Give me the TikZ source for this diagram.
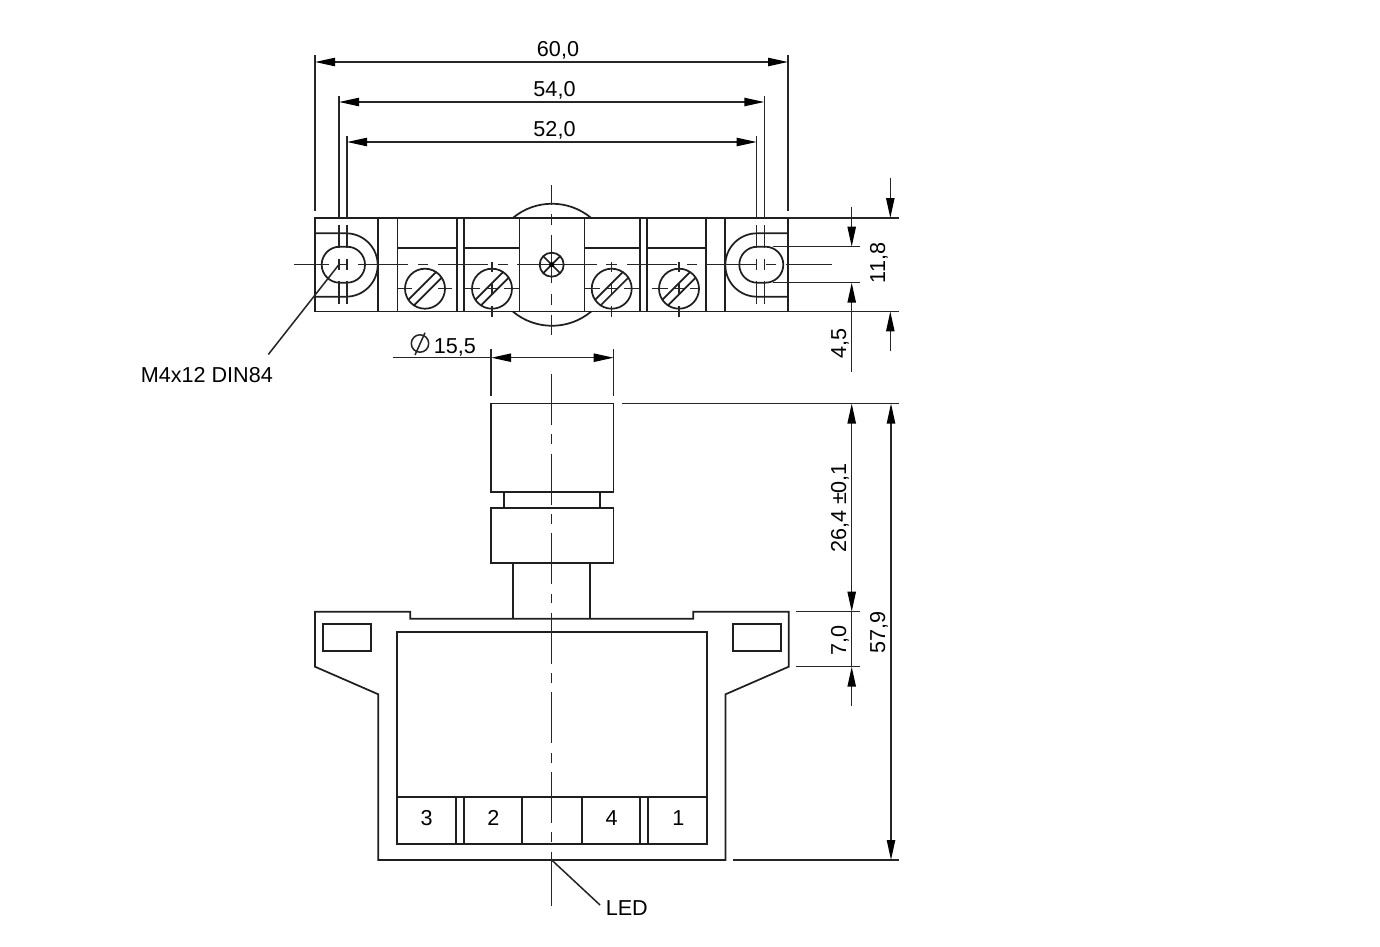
\documentclass[tikz,border=0pt]{standalone}
\usepackage{fontspec}
\setmainfont{Liberation Sans}
\usetikzlibrary{arrows.meta}
\tikzset{
  body/.style={line width=1.3pt,black!88,line join=miter},
  thin line/.style={line width=1.15pt,black!85},
  centre/.style={line width=1.15pt,black!85},
  dimline/.style={line width=1.15pt,black!85,arrows={-}},
  both tips/.style={{Triangle[length=15pt,width=6.2pt,black]}-{Triangle[length=15pt,width=6.2pt,black]}},
  end tip/.style={-{Triangle[length=15pt,width=6.2pt,black]}},
  longcentre/.style={line width=1.15pt,black!85,dash pattern=on 38.25pt off 7.1pt on 7.3pt off 7.05pt},
  dimtext/.style={font=\fontsize{16.2}{18}\selectfont,inner sep=0pt,anchor=base,black},
  vdimtext/.style={dimtext,rotate=90}
}
\newcommand{\screwhead}[2]{%
  \draw[body] (#1,#2) circle[radius=20];
  \draw[body] (#1-16.7,#2+11.1) -- (#1+11.1,#2-16.7);
  \draw[body] (#1-11.1,#2+16.7) -- (#1+16.7,#2-11.1);
}
\begin{document}
\begin{tikzpicture}[x=0.75pt,y=-0.75pt]
\useasboundingbox (0,0) rectangle (1380,946);

% ---------- top view ----------
\draw[body] (512.8,218) arc[start angle=-130,end angle=-50,radius=61];
\draw[body] (512.8,311.5) arc[start angle=130,end angle=50,radius=61];
\draw[body] (315,218) rectangle (788,311.5);
\foreach \x in {378,397.5,457,464,519.5,584.5,640,647,706,725}
  \draw[body] (\x,218) -- (\x,311.5);
\foreach \a/\b in {397.5/457,464/519.5,584.5/640,647/706}
  \draw[body] (\a,248) -- (\b,248);

% clamps
\draw[body] (315,233.3) -- (346,233.3) arc[start angle=-90,end angle=90,radius=31.7] -- (315,296.7);
\draw[body] (788,233.3) -- (757,233.3) arc[start angle=-90,end angle=-270,radius=31.7] -- (788,296.7);
\draw[body] (339.7,246.7) -- (347,246.7) arc[start angle=-90,end angle=90,radius=18] -- (339.7,282.7) arc[start angle=90,end angle=270,radius=18] -- cycle;
\draw[body] (757.3,246.7) -- (765.3,246.7) arc[start angle=-90,end angle=90,radius=18] -- (757.3,282.7) arc[start angle=90,end angle=270,radius=18] -- cycle;
\foreach \x in {339,347,756.7,764.3}
  \foreach \a/\b in {225/248,259/270,280.7/304}
    \draw[centre] (\x,\a) -- (\x,\b);

% main horizontal centre line
\foreach \a/\b in {294/329,338/348,358/408,418/428,438/488,498/508,517/597,606/617,627/677,687/697,706/756,766/776,786/832}
  \draw[centre] (\a,264.7) -- (\b,264.7);
% central vertical centre line
\foreach \a/\b in {185/205,214/225,235/283,294/305,315/335}
  \draw[centre] (551.7,\a) -- (551.7,\b);

% central screw
\draw[body] (551.7,264.7) circle[radius=12];
\draw[body] (543.2,256.2) -- (560.2,273.2);
\draw[body] (543.2,273.2) -- (560.2,256.2);
\fill[black] (551.7,264.7) circle[radius=2.6];

% terminal screws
\screwhead{425}{288.7}
\screwhead{492}{288.7}
\screwhead{611.7}{288.7}
\screwhead{679}{288.7}
\foreach \a/\b in {397.5/412,438/452,464/480,487/497,504/520,584.5/600,607/617,624/640,652/668,674/684,690/699}
  \draw[centre] (\a,288.7) -- (\b,288.7);
\foreach \x in {492,611.7,679}
  \foreach \a/\b in {262/272,284/294,306/317}
    \draw[centre] (\x,\a) -- (\x,\b);

% leader M4x12
\coordinate (mhole) at (339,264.5);
\node[dimtext,anchor=base west] (mlabel) at (140.5,382.7) {M4x12 DIN84};
\coordinate (mend) at (268.3,354.5);
\draw[thin line] (mhole) -- (mend);

% ---------- side view ----------
\draw[body] (491,403.5) rectangle (613.5,492);
\draw[body] (504,492) -- (504,507.7);
\draw[body] (599.7,492) -- (599.7,507.7);
\draw[body] (491,507.7) rectangle (613.5,562.7);
\draw[body] (513.3,562.7) -- (513.3,618.7);
\draw[body] (590.3,562.7) -- (590.3,618.7);

\draw[body] (378.3,860) -- (378.3,694.3) -- (315,666.7) -- (315,611.7) -- (410.3,611.7) -- (410.3,618.7)
  -- (693.3,618.7) -- (693.3,611.7) -- (788.7,611.7) -- (788.7,666.7) -- (725.5,694.3) -- (725.5,860) -- cycle;
\draw[body] (397,631.7) rectangle (706.7,844.3);
\draw[body] (397,796.7) -- (706.7,796.7);
\foreach \x in {455.7,463.7,522,582,640.3,648.3}
  \draw[body] (\x,796.7) -- (\x,844.3);
\draw[body] (323.3,623.7) rectangle (370.7,651.3);
\draw[body] (733.3,623.7) rectangle (781,651.3);

\draw[longcentre] (551.7,374) -- (551.7,902.5);
\draw[centre] (551.7,902) -- (551.7,905.5);

\node[dimtext] (t3) at (426.7,825) {3};
\node[dimtext] (t2) at (493.3,825) {2};
\node[dimtext] (t4) at (611.5,825) {4};
\node[dimtext] (t1) at (678.3,825) {1};

% LED leader
\coordinate (ledstart) at (551.7,860);
\coordinate (ledend) at (600,905);
\draw[thin line] (ledstart) -- (ledend);
\node[dimtext,anchor=base west] (led) at (605.5,915) {LED};

% ---------- dimensions, top ----------
\draw[dimline] (315,55) -- (315,210.7);
\draw[dimline] (788,55) -- (788,210.7);
\draw[dimline] (339,96) -- (339,218);
\draw[dimline] (764.3,96) -- (764.3,218);
\draw[dimline] (347,136) -- (347,218);
\draw[dimline] (756.7,136) -- (756.7,218);
\draw[dimline,both tips] (315,62) -- (788,62);
\draw[dimline,both tips] (339,102) -- (764.3,102);
\draw[dimline,both tips] (347,142) -- (756.7,142);
\node[dimtext] (d60) at (558,56.5) {60,0};
\node[dimtext] (d54) at (554.5,96.5) {54,0};
\node[dimtext] (d52) at (554.5,136) {52,0};

% right of top view
\draw[dimline] (788,218) -- (899,218);
\draw[dimline] (788,311.4) -- (899,311.4);
\draw[dimline] (772.7,246.7) -- (860,246.7);
\draw[dimline] (772.7,282.7) -- (860,282.7);
\draw[dimline,end tip] (851.7,207.3) -- (851.7,246.7);
\draw[dimline,end tip] (851.7,371.7) -- (851.7,282.7);
\draw[dimline,end tip] (890.3,178.3) -- (890.3,218);
\draw[dimline,end tip] (890.3,351) -- (890.3,311.4);
\node[vdimtext] (d118) at (885,263) {11,8};
\node[vdimtext] (d45) at (846,343) {4,5};

% diameter
\draw[dimline] (491.2,349.3) -- (491.2,396);
\draw[dimline] (613.7,349.3) -- (613.7,396);
\draw[dimline] (392.7,357.7) -- (491.2,357.7);
\draw[dimline,both tips] (491.2,357.7) -- (613.7,357.7);
\draw[thin line] (420,343.5) circle[radius=8.7];
\draw[thin line] (415,355) -- (425,332.7);
\node[dimtext,anchor=base west] (d155) at (433.5,353) {15,5};

% right of side view
\draw[dimline] (622,403.5) -- (899,403.5);
\draw[dimline] (733,860) -- (899,860);
\draw[dimline] (796,611.7) -- (860,611.7);
\draw[dimline] (796,666.7) -- (860,666.7);
\draw[dimline,both tips] (851.7,403.5) -- (851.7,611.7);
\draw[dimline,end tip] (851.7,706) -- (851.7,666.7);
\draw[dimline] (851.7,611.7) -- (851.7,666.7);
\draw[dimline,both tips] (891,403.5) -- (891,860);
\node[vdimtext] (d264) at (846,508) {26,4 ±0,1};
\node[vdimtext] (d70) at (846,640) {7,0};
\node[vdimtext] (d579) at (885,632) {57,9};
\end{tikzpicture}
\end{document}
